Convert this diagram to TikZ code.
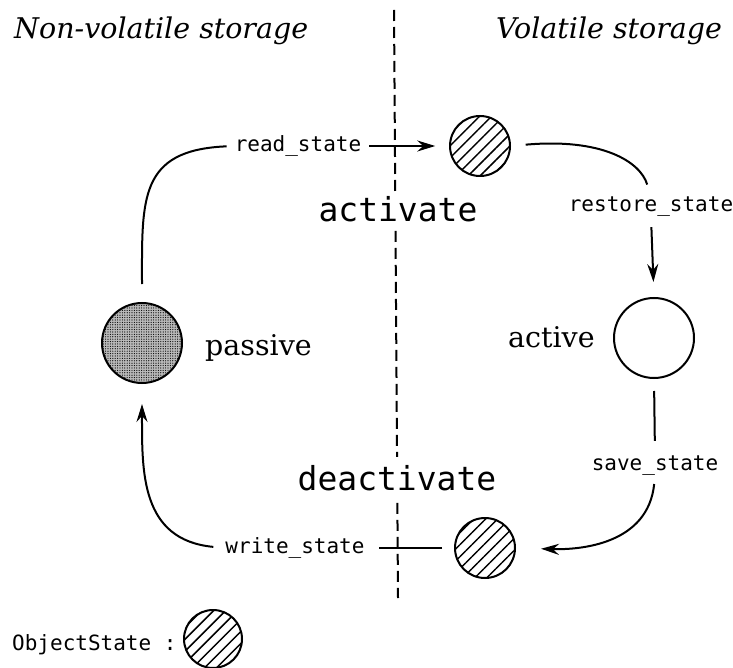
\documentclass[tikz,border=0pt]{standalone}
\usepackage{fontspec}
\setmainfont{DejaVu Serif}
\setmonofont{DejaVu Sans Mono}
\usetikzlibrary{arrows.meta,patterns.meta}
\begin{document}
\begin{tikzpicture}[x=1pt,y=-1pt,
  every node/.style={inner sep=0pt},
  objstate/.style={circle,draw,line width=2pt,minimum size=60pt,
    pattern={Lines[angle=45,distance=8.5pt,line width=1.5pt]}},
  bigcirc/.style={circle,draw,line width=2pt,minimum size=80pt},
  lbl/.style={font=\fontsize{21}{24}\selectfont\ttfamily},
  biglbl/.style={font=\fontsize{33}{38}\selectfont\ttfamily,fill=white},
  serif/.style={font=\fontsize{28.5}{32}\selectfont},
  ttl/.style={font=\fontsize{28.5}{32}\selectfont\itshape},
  conn/.style={line width=2pt},
  arr/.style={line width=2pt,-{Stealth[length=18pt,width=11pt,inset=6pt]}},
  divider/.style={line width=2pt,dash pattern=on 11pt off 6pt}]
\useasboundingbox (0,0) rectangle (733,668);
% divider
\coordinate (dtop) at (394,10);
\coordinate (dbot) at (398,598);
\draw[divider] (dtop) -- (dbot);
% titles
\node[ttl,anchor=base west] (tnv) at (14,39) {Non-volatile storage};
\node[ttl,anchor=base west] (tv) at (496,39) {Volatile storage};
% big labels
\node[biglbl,anchor=base,inner ysep=5pt] (activate) at (398,222) {activate};
\node[biglbl,anchor=base,inner ysep=8pt] (deactivate) at (397,490) {deactivate};
% states
\node[objstate] (top) at (480,146) {};
\node[bigcirc,preaction={fill=gray!55},pattern={Dots[distance=2.4pt,radius=0.6pt]}] (passive) at (142,343) {};
\node[bigcirc] (active) at (654,338) {};
\node[objstate] (bottom) at (485,548) {};
\node[serif,anchor=base west] (passivelbl) at (205,355) {passive};
\node[serif,anchor=base west] (activelbl) at (508,347) {active};
% transition labels
\node[lbl] (read) at (298,146) {read\_state};
\node[lbl] (restore) at (651,207) {restore\_state};
\node[lbl] (save) at (655,466) {save\_state};
\node[lbl] (write) at (295,548) {write\_state};
% legend
\node[lbl,anchor=base west] (legend) at (12,650) {ObjectState :};
\node[objstate,minimum size=58pt] (legcirc) at (213,639) {};
% connectors
\draw[conn,shorten <=18pt,shorten >=8pt] (passive.north) .. controls +(0,-103) and +(-96,4) .. (read.west);
\draw[arr,shorten <=8pt,shorten >=14pt] (read.east) -- (top.west);
\draw[conn,shorten <=15pt,shorten >=13pt] (top.east) .. controls +(90,-8) and +(-11,-36) .. (restore.north);
\draw[arr,shorten <=10pt,shorten >=15pt] (restore.south) -- (active.north);
\draw[conn,shorten <=12pt,shorten >=15pt] (active.south) -- (save.north);
\draw[arr,shorten <=8pt,shorten >=25pt] (save.south) .. controls +(-7,68) and +(65,2) .. (bottom.east);
\draw[conn,shorten <=12pt,shorten >=14pt] (bottom.west) -- (write.east);
\draw[arr,shorten <=12pt,shorten >=20pt] (write.west) .. controls +(-85,-8) and +(0,87) .. (passive.south);
\end{tikzpicture}
\end{document}
